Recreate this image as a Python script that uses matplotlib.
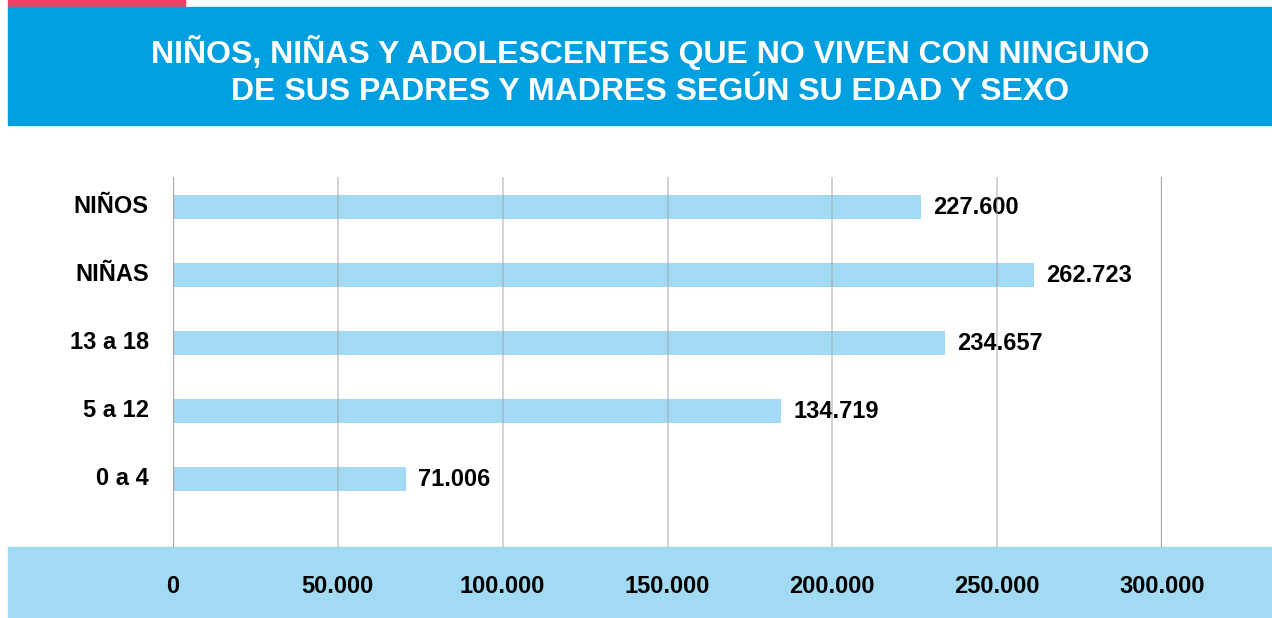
import matplotlib.pyplot as plt
from matplotlib.patches import Rectangle
from matplotlib.transforms import ScaledTranslation

plt.rcParams['font.family'] = ['Liberation Sans', 'DejaVu Sans']
plt.rcParams['font.weight'] = 'bold'

categorias = ['0 a 4', '5 a 12', '13 a 18', 'NIÑAS', 'NIÑOS']
# largo de barra tal como se ve en el grafico (5 a 12 esta dibujada mas larga que su rotulo)
valores = [70800, 184500, 234200, 261200, 227000]
etiquetas = ['71.006', '134.719', '234.657', '262.723', '227.600']
ticks = [0, 50000, 100000, 150000, 200000, 250000, 300000]
ticks_txt = ['0', '50.000', '100.000', '150.000', '200.000', '250.000', '300.000']
titulo = 'NIÑOS, NIÑAS Y ADOLESCENTES QUE NO VIVEN CON NINGUNO\nDE SUS PADRES Y MADRES SEGÚN SU EDAD Y SEXO'

azul = '#009fe0'
celeste = '#a3daf3'
rosa = '#e8445f'

fig = plt.figure(figsize=(12.72, 6.18), dpi=100)

# franjas de fondo
fig.patches.append(Rectangle((8/1272, 1 - 6/618), 177/1272, 6/618, transform=fig.transFigure, color=rosa, zorder=-1))
fig.patches.append(Rectangle((8/1272, 1 - 125/618), 1, 118/618, transform=fig.transFigure, color=azul, zorder=-1))
fig.patches.append(Rectangle((8/1272, 0), 1, 71/618, transform=fig.transFigure, color=celeste, zorder=-1))
fig.text(650/1272, 1 - 71/618, titulo, color='white', fontsize=23, ha='center', va='center',
         linespacing=1.3)

ax = fig.add_axes([173/1272, 71/618, 989/1272, 370/618])
y = range(len(categorias))
ax.barh(y, valores, height=0.35, color=celeste, zorder=1)
for i, v in enumerate(valores):
    ax.annotate(etiquetas[i], (v, i), xytext=(8.5, -0.5), textcoords='offset points',
                va='center', ha='left', fontsize=17, zorder=3)

ax.set_xlim(0, 300000)
ax.set_ylim(-1.0, 4.44)
ax.set_xticks(ticks)
ax.set_xticklabels(ticks_txt, fontsize=17)
ax.set_yticks(list(y))
ax.set_yticklabels(categorias, fontsize=17)
ax.tick_params(length=0, axis='x', pad=20)
ax.tick_params(length=0, axis='y', pad=17.5)
subir = ScaledTranslation(0, 3/100, fig.dpi_scale_trans)
for lab in ax.get_yticklabels():
    lab.set_transform(lab.get_transform() + subir)
for t in ticks[1:-1]:
    ax.axvline(t, color='#a0a0a0', alpha=0.5, lw=1.3, zorder=4)
for t in [0, 300000]:
    ax.axvline(t, color='#a6a6a6', lw=1.6, zorder=4)
for s in ax.spines.values():
    s.set_visible(False)
ax.patch.set_alpha(0)

fig.savefig('out.png', dpi=100)
